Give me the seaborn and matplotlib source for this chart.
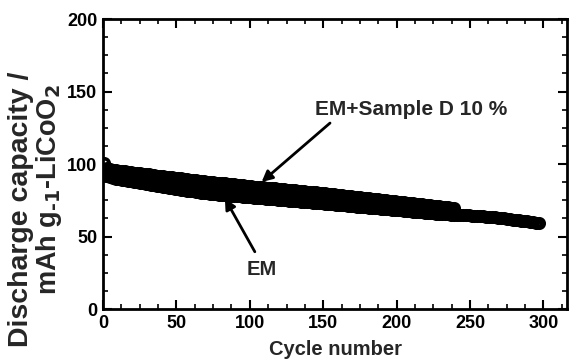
import matplotlib
matplotlib.use("Agg")
import matplotlib.pyplot as plt
from matplotlib.ticker import AutoMinorLocator
import seaborn as sns
import pandas as pd

# ---- data ----
cycles_em_d = list(range(1, 240, 2))  # EM+Sample D 10 %
cap_em_d = [100.5, 97.5, 96.5, 96.0, 95.6, 95.4, 95.0, 94.9, 94.5, 94.4,
            94.1, 93.8, 93.6, 93.4, 93.0, 92.9, 92.6, 92.3, 92.1, 91.9,
            91.6, 91.3, 91.1, 90.9, 90.6, 90.3, 90.1, 89.9, 89.6, 89.3,
            89.1, 88.9, 88.6, 88.3, 88.1, 87.9, 87.6, 87.4, 87.2, 86.9,
            86.8, 86.6, 86.4, 86.1, 86.0, 85.8, 85.6, 85.3, 85.2, 85.0,
            84.8, 84.5, 84.4, 84.2, 84.0, 83.7, 83.6, 83.4, 83.2, 82.9,
            82.8, 82.6, 82.4, 82.1, 82.0, 81.8, 81.6, 81.3, 81.2, 81.0,
            80.8, 80.5, 80.4, 80.2, 80.0, 79.7, 79.5, 79.3, 79.1, 78.8,
            78.6, 78.4, 78.1, 77.9, 77.7, 77.5, 77.2, 77.0, 76.8, 76.5,
            76.3, 76.1, 75.8, 75.6, 75.4, 75.2, 74.9, 74.7, 74.5, 74.2,
            74.0, 73.8, 73.5, 73.3, 73.1, 72.9, 72.6, 72.4, 72.2, 71.9,
            71.7, 71.5, 71.2, 71.0, 70.8, 70.6, 70.3, 70.1, 69.9, 69.8]

cycles_em = list(range(1, 298, 2))  # EM
cap_em = [93.0, 92.0, 91.1, 90.5, 90.0, 89.6, 89.3, 88.9, 88.6, 88.2,
          87.9, 87.5, 87.2, 86.8, 86.5, 86.1, 85.8, 85.4, 85.1, 84.7,
          84.4, 84.0, 83.7, 83.3, 83.0, 82.7, 82.4, 82.0, 81.7, 81.4,
          81.1, 80.8, 80.5, 80.2, 79.9, 79.7, 79.6, 79.4, 79.2, 79.0,
          78.9, 78.7, 78.5, 78.3, 78.1, 78.0, 77.8, 77.6, 77.4, 77.3,
          77.1, 76.9, 76.7, 76.6, 76.4, 76.2, 76.0, 75.9, 75.7, 75.5,
          75.3, 75.2, 75.0, 74.8, 74.6, 74.4, 74.3, 74.1, 73.9, 73.7,
          73.6, 73.4, 73.2, 73.0, 72.9, 72.7, 72.5, 72.4, 72.2, 72.0,
          71.8, 71.6, 71.5, 71.3, 71.1, 70.9, 70.7, 70.5, 70.4, 70.2,
          70.0, 69.8, 69.6, 69.4, 69.3, 69.1, 68.9, 68.7, 68.5, 68.3,
          68.2, 68.0, 67.8, 67.6, 67.4, 67.2, 67.1, 66.9, 66.7, 66.5,
          66.3, 66.1, 66.0, 65.8, 65.6, 65.5, 65.4, 65.3, 65.2, 65.1,
          65.0, 64.9, 64.8, 64.7, 64.6, 64.5, 64.4, 64.3, 64.1, 64.0,
          63.8, 63.6, 63.4, 63.2, 63.0, 62.7, 62.5, 62.2, 62.0, 61.7,
          61.5, 61.2, 60.9, 60.7, 60.4, 60.1, 59.8, 59.5, 59.2]

x_ticks = [0, 50, 100, 150, 200, 250, 300]
y_ticks = [0, 50, 100, 150, 200]
label_em_d = "EM+Sample D 10 %"
label_em = "EM"
ylabel_line1 = "Discharge capacity /"
ylabel_line2 = "mAh g$_{\\text{-1}}$-LiCoO$_2$"

sns.set_style("ticks")
plt.rcParams["font.family"] = ["Liberation Sans", "DejaVu Sans"]
plt.rcParams["font.weight"] = "bold"
plt.rcParams["mathtext.default"] = "bf"

fig = plt.figure(figsize=(5.73, 3.61), dpi=100)
ax = fig.add_axes([0.1798, 0.144, 0.8097, 0.803])

df_d = pd.DataFrame({"cycle": cycles_em_d, "cap": cap_em_d})
df_e = pd.DataFrame({"cycle": cycles_em, "cap": cap_em})

for df in (df_e, df_d):
    sns.lineplot(data=df, x="cycle", y="cap", ax=ax, linestyle="", marker="o",
                 markersize=6.8, markerfacecolor="none", markeredgecolor="black",
                 markeredgewidth=2.6, color="black", sort=False, estimator=None)

ax.set_xlim(0, 316)
ax.set_ylim(0, 200)
ax.set_xticks(x_ticks)
ax.set_yticks(y_ticks)
ax.xaxis.set_minor_locator(AutoMinorLocator(4))
ax.yaxis.set_minor_locator(AutoMinorLocator(4))
ax.tick_params(which="both", direction="in", top=True, right=True, colors="black")
ax.tick_params(which="major", length=6.5, width=1.5, labelsize=13, pad=4)
ax.tick_params(which="minor", length=3.5, width=1.2)
for lab in ax.get_xticklabels() + ax.get_yticklabels():
    lab.set_fontweight("bold")
for sp in ax.spines.values():
    sp.set_linewidth(2)
    sp.set_color("black")

ax.set_xlabel("Cycle number", fontsize=14.5, fontweight="bold", labelpad=6)
ax.set_ylabel("")
fig.text(0.0366, 0.421, ylabel_line1, rotation=90, fontsize=20.5,
         fontweight="bold", ha="center", va="center")
fig.text(0.0855, 0.474, ylabel_line2, rotation=90, fontsize=19.5,
         fontweight="bold", ha="center", va="center")

# annotation texts and arrows
ax.text(144.3, 133.8, label_em_d, fontsize=15, fontweight="bold",
        ha="left", va="baseline")
ax.annotate("", xy=(108, 87.6), xytext=(154.6, 128.3),
            arrowprops=dict(arrowstyle="-|>", color="black", lw=2,
                            mutation_scale=16, shrinkA=0, shrinkB=0))
ax.text(108.2, 27.6, label_em, fontsize=14.5, fontweight="bold",
        ha="center", va="center")
ax.annotate("", xy=(83, 76.3), xytext=(103.4, 39.5),
            arrowprops=dict(arrowstyle="-|>", color="black", lw=2,
                            mutation_scale=16, shrinkA=0, shrinkB=0))

fig.savefig("out.png", dpi=100)
